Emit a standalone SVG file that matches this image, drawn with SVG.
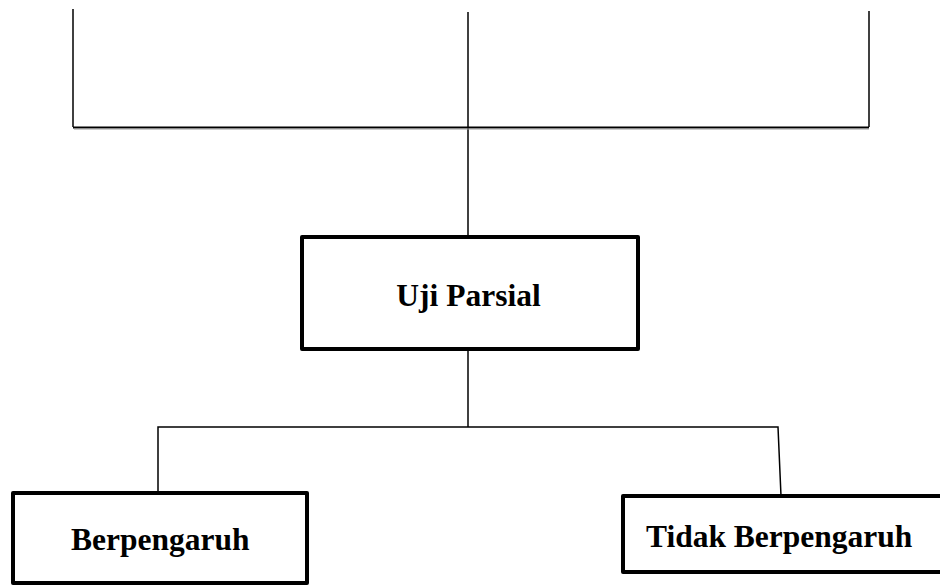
<svg xmlns="http://www.w3.org/2000/svg" width="940" height="585" viewBox="0 0 940 585">
<style>
.box{fill:#fff;stroke:#000;stroke-width:4;stroke-linejoin:round}
.ln{fill:none;stroke:#000;stroke-width:1.5}
.t{font-family:"Liberation Serif","Times New Roman",serif;font-weight:bold;font-size:31.5px;fill:#000}
</style>
<rect width="940" height="585" fill="#fff"/>
<g id="connectors">
<path class="ln" d="M73,9 V127"/>
<path class="ln" d="M869,11 V127"/>
<path class="ln" d="M468,12 V237"/>
<path d="M73,127.5 H869" fill="none" stroke="#000" stroke-width="2"/>
<path d="M74,129 H869" fill="none" stroke="#999" stroke-width="1"/>
<path class="ln" d="M468,350 V427"/>
<path class="ln" d="M158,493 V427 H778 L781,496"/>
</g>
<g id="uji-parsial">
<rect class="box" x="302" y="237" width="336" height="112"/>
<text class="t" x="468.5" y="306" text-anchor="middle">Uji Parsial</text>
</g>
<g id="berpengaruh">
<rect class="box" x="13" y="493" width="294" height="90"/>
<text class="t" x="71" y="550">Berpengaruh</text>
</g>
<g id="tidak-berpengaruh">
<rect class="box" x="623" y="496" width="330" height="76"/>
<text class="t" x="646" y="547">Tidak Berpengaruh</text>
</g>
</svg>
